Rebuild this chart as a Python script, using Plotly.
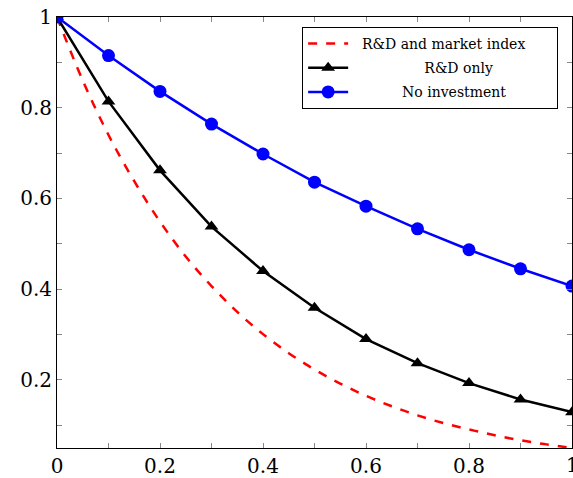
import plotly.graph_objects as go

x_pts = [0, 0.1, 0.2, 0.3, 0.4, 0.5, 0.6, 0.7, 0.8, 0.9, 1.0]
no_invest = [1.0, 0.915, 0.836, 0.764, 0.698, 0.636, 0.583, 0.533, 0.487, 0.445, 0.407]
rd_only = [1.0, 0.814, 0.662, 0.538, 0.440, 0.359, 0.290, 0.237, 0.193, 0.157, 0.129]

x_dense = [0, 0.05, 0.1, 0.15, 0.2, 0.25, 0.3, 0.35, 0.4, 0.45, 0.5,
           0.55, 0.6, 0.65, 0.7, 0.75, 0.8, 0.85, 0.9, 0.95, 1.0]
rd_market = [1.0, 0.86, 0.74, 0.638, 0.549, 0.472, 0.407, 0.35, 0.301, 0.259, 0.223,
             0.192, 0.165, 0.142, 0.122, 0.105, 0.091, 0.078, 0.067, 0.058, 0.05]

x_tickvals = [0, 0.1, 0.2, 0.3, 0.4, 0.5, 0.6, 0.7, 0.8, 0.9, 1.0]
x_ticktext = ["0", "", "0.2", "", "0.4", "", "0.6", "", "0.8", "", ""]
y_tickvals = [0.1, 0.2, 0.3, 0.4, 0.5, 0.6, 0.7, 0.8, 0.9, 1.0]
y_ticktext = ["", "0.2", "", "0.4", "", "0.6", "", "0.8", "", "1"]

SERIF = "DejaVu Serif, Liberation Serif, serif"
NB = "\u00a0"
PAD = "<span style='color:rgba(0,0,0,0)'>....</span>"

fig = go.Figure()
fig.add_trace(go.Scatter(x=x_dense, y=rd_market, mode="lines",
                         name=NB * 2 + "R&amp;D and market index" + NB * 2 + PAD,
                         legendgroup="a",
                         line=dict(color="red", width=2.5, dash="dash", shape="spline")))
fig.add_trace(go.Scatter(x=x_pts, y=rd_only, mode="lines+markers",
                         name=NB * 16 + "R&amp;D only",
                         legendgroup="b",
                         line=dict(color="black", width=2.5),
                         marker=dict(symbol="triangle-up", size=12, color="black")))
fig.add_trace(go.Scatter(x=x_pts, y=no_invest, mode="lines+markers",
                         name=NB * 11 + "No investment",
                         legendgroup="c",
                         line=dict(color="blue", width=2.5),
                         marker=dict(symbol="circle", size=13, color="blue")))

axis_common = dict(showgrid=False, zeroline=False, showline=True, linecolor="black", linewidth=1,
                   mirror="ticks", ticks="inside", ticklen=5, tickcolor="#888", tickwidth=1,
                   tickfont=dict(family=SERIF, size=20, color="black"))
fig.update_xaxes(range=[0, 1], tickmode="array", tickvals=x_tickvals, ticktext=x_ticktext, **axis_common)
fig.update_yaxes(range=[0.05, 1], tickmode="array", tickvals=y_tickvals, ticktext=y_ticktext, **axis_common)

fig.add_annotation(x=1, y=0, xref="x", yref="paper", text="1", showarrow=False,
                   yanchor="top", yshift=-3, font=dict(family=SERIF, size=20, color="black"))

fig.update_layout(
    width=573, height=478,
    margin=dict(l=57, r=1, t=17, b=30),
    plot_bgcolor="white", paper_bgcolor="white",
    legend=dict(x=0.476, y=0.977, xanchor="left", yanchor="top",
                bordercolor="black", borderwidth=1, bgcolor="white",
                font=dict(family=SERIF, size=14, color="black"),
                itemwidth=40, tracegroupgap=3),
)
fig.write_html("out.html")
